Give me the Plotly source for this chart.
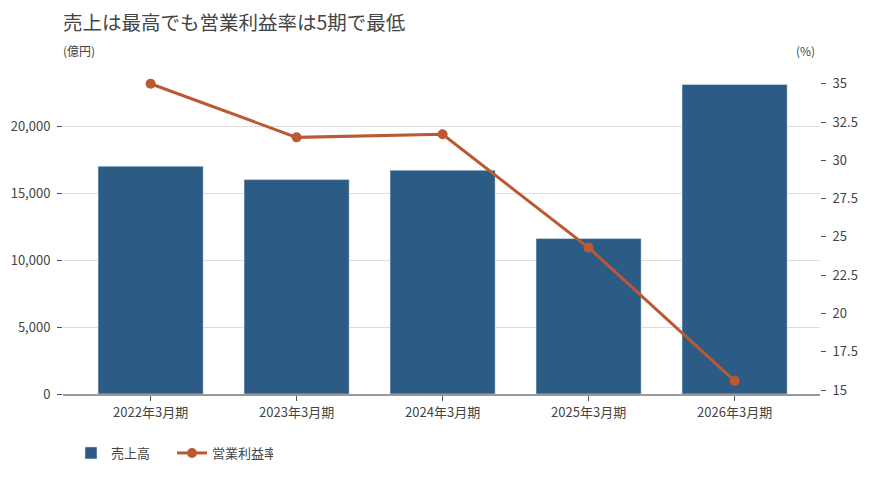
import plotly.graph_objects as go

categories = ["2022年3月期", "2023年3月期", "2024年3月期", "2025年3月期", "2026年3月期"]
sales = [17000, 16000, 16700, 11600, 23100]
margin = [35.0, 31.5, 31.7, 24.3, 15.6]

BAR = "#2c5b86"
LINE = "#b95a32"
FONT = "Noto Sans CJK JP"
TXT = "#444444"

OFF = 8  # page body offset
W, H = 870, 477
PLOT_L, PLOT_R = 63 - OFF, 820 - OFF
PLOT_TOP, PLOT_BOT = 70 - OFF, 394 - OFF
PH = PLOT_BOT - PLOT_TOP
PW = PLOT_R - PLOT_L

fig = go.Figure()
fig.add_trace(go.Bar(x=categories, y=sales, name="売上高", marker=dict(color=BAR),
                     yaxis="y"))
fig.add_trace(go.Scatter(x=categories, y=margin, name="営業利益率", mode="lines+markers",
                         line=dict(color=LINE, width=3), marker=dict(color=LINE, size=10),
                         yaxis="y2"))

fig.update_layout(
    width=W, height=H,
    margin=dict(l=PLOT_L, r=W - PLOT_R, t=PLOT_TOP, b=H - PLOT_BOT, autoexpand=False),
    paper_bgcolor="white", plot_bgcolor="white",
    font=dict(family=FONT, size=13, color=TXT),
    bargap=0.28,
    title=dict(text="売上は最高でも営業利益率は5期で最低", x=PLOT_L/W, xanchor="left",
               y=1-(23-OFF)/H, yanchor="middle", font=dict(size=19.5, color=TXT, family=FONT)),
    xaxis=dict(type="category", range=[-0.6, 4.585], showgrid=False, automargin=False,
               showline=True, linecolor="#999999", linewidth=2,
               ticks="outside", ticklen=5, tickcolor="#555555",
               tickfont=dict(size=13, color=TXT)),
    yaxis=dict(range=[0, 24180], tickvals=[0, 5000, 10000, 15000, 20000], automargin=False,
               tickformat=",d", showgrid=True, gridcolor="#dddddd", gridwidth=1,
               zeroline=False, ticks="outside", ticklen=5, tickcolor="#555555",
               ticklabelstandoff=4, tickfont=dict(size=13, color=TXT)),
    yaxis2=dict(range=[14.74, 35.9], overlaying="y", side="right", automargin=False,
                tickvals=[15, 17.5, 20, 22.5, 25, 27.5, 30, 32.5, 35],
                showgrid=False, zeroline=False, ticks="outside", ticklen=5,
                ticklabelstandoff=4,
                tickcolor="#555555", tickfont=dict(size=13, color=TXT)),
    legend=dict(orientation="h", x=8/PW, xanchor="left", yref="container",
                y=1-(453-OFF)/H, yanchor="middle", font=dict(size=13, color=TXT),
                traceorder="normal", entrywidth=56),
    annotations=[
        dict(text="(億円)", xref="paper", yref="paper", x=-2/PW,
             y=(PLOT_BOT - (51-OFF))/PH, xanchor="left", yanchor="middle", showarrow=False,
             font=dict(size=12, color=TXT)),
        dict(text="(%)", xref="paper", yref="paper", x=1+(805-820)/PW,
             y=(PLOT_BOT - (51-OFF))/PH, xanchor="center", yanchor="middle", showarrow=False,
             font=dict(size=12, color=TXT)),
    ],
)

fig.write_html("out.html")
